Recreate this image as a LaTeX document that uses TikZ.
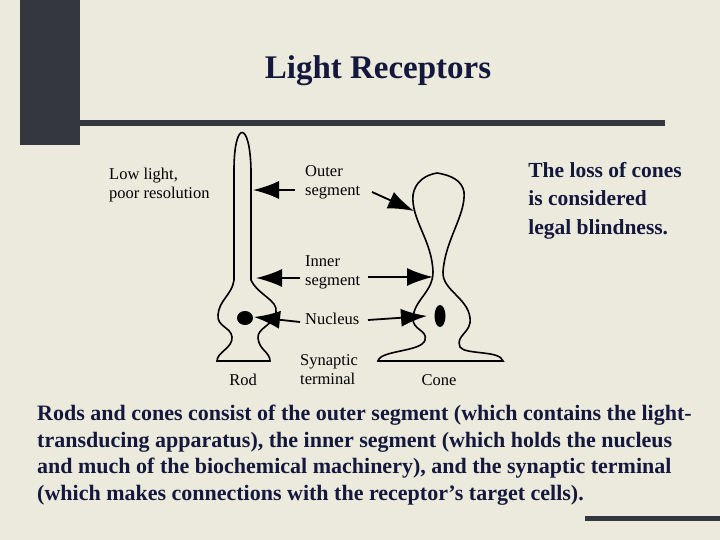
\documentclass[tikz,border=0pt]{standalone}
\usepackage{fontspec}
\setmainfont{Liberation Serif}
\begin{document}
\begin{tikzpicture}[x=1pt,y=-1pt,
  lbl/.style={font=\fontsize{16.5}{19}\selectfont,align=left,inner sep=0},
  arr/.style={-{Latex[length=26pt,width=18pt]},line width=1.8pt},
  cell/.style={line width=1.6pt},
  dark/.style={fill=barc,draw=none}]
\usetikzlibrary{arrows.meta}
\definecolor{bg}{RGB}{236,234,221}
\definecolor{barc}{RGB}{52,55,64}
\definecolor{navy}{RGB}{20,24,60}
\fill[bg] (0,0) rectangle (720,540);
\useasboundingbox (0,0) rectangle (720,540);
\fill[dark] (20,0) rectangle (80,145);
\fill[dark] (20,120) rectangle (665,126);
\fill[dark] (585,516) rectangle (720,521);
\node[font=\bfseries\fontsize{33}{36}\selectfont,text=navy] (title) at (378,71) {Light Receptors};
% rod
\draw[cell] (234,280) -- (234,170) .. controls (234,120) and (250,120) .. (251,170) -- (251,280)
  .. controls (258,295) and (278,300) .. (276,312) .. controls (274,325) and (257,328) .. (258,338)
  .. controls (259,350) and (270,352) .. (270,361) -- (217,361)
  .. controls (217,352) and (233,348) .. (232,337) .. controls (231,327) and (217,327) .. (218,315)
  .. controls (219,300) and (232,295) .. (234,280);
\fill (245,318) ellipse (8 and 7);
% cone
\draw[cell] (437,173) .. controls (450,175) and (462,180) .. (464,192)
  .. controls (466,215) and (445,240) .. (443,272)
  .. controls (442,290) and (468,298) .. (470,318)
  .. controls (472,333) and (455,335) .. (460,347)
  .. controls (465,355) and (500,350) .. (503,361) -- (378,361)
  .. controls (380,350) and (422,352) .. (425,340)
  .. controls (428,330) and (412,330) .. (413,318)
  .. controls (414,300) and (433,292) .. (433,272)
  .. controls (432,240) and (411,220) .. (413,195)
  .. controls (415,182) and (425,175) .. (437,173);
\fill (440,316) ellipse (5.5 and 11);
% anchors
\coordinate (ro) at (253,190);
\coordinate (co) at (414,211);
\coordinate (ri) at (256,278);
\coordinate (ci) at (433,277);
\coordinate (rnu) at (254,317);
\coordinate (cnu) at (427,316);
\node[lbl,anchor=north west] (outer) at (305,165) {Outer\\segment};
\node[lbl,anchor=north west] (inner) at (305,255) {Inner\\segment};
\node[lbl,anchor=north west] (nuc) at (305,313) {Nucleus};
\node[lbl,anchor=north west] (syn) at (300,354) {Synaptic\\terminal};
\node[lbl] (rod) at (243,380) {Rod};
\node[lbl] (cone) at (439,380) {Cone};
\node[lbl,anchor=north west] (low) at (109,168) {Low light,\\poor resolution};
\draw[arr] (295,190) -- (ro);
\draw[arr] (372,192) -- (co);
\draw[arr] (300,278) -- (ri);
\draw[arr] (368,277) -- (ci);
\draw[arr] (300,322) -- (rnu);
\draw[arr] (368,320) -- (cnu);
\node[font=\bfseries\fontsize{21.5}{28.5}\selectfont,align=left,anchor=north east,inner sep=0,text=navy] (loss) at (682,162) {The loss of cones\\is considered\\legal blindness.};
\node[font=\bfseries\fontsize{22}{26.5}\selectfont,align=left,anchor=north west,inner sep=0,text=navy] (para) at (37,405)
 {Rods and cones consist of the outer segment (which contains the light-\\
  transducing apparatus), the inner segment (which holds the nucleus\\
  and much of the biochemical machinery), and the synaptic terminal\\
  (which makes connections with the receptor’s target cells).};
\end{tikzpicture}
\end{document}
